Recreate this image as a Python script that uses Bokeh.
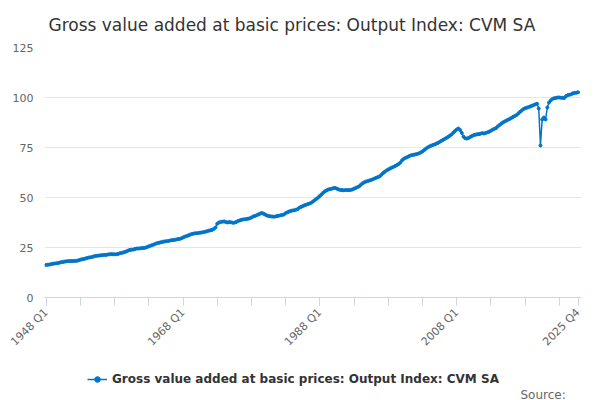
import math
from bokeh.plotting import figure
from bokeh.layouts import column
from bokeh.models import FixedTicker, Legend, LegendItem, Label, ColumnDataSource, Range1d
from bokeh.embed import file_html
from bokeh.resources import INLINE

title_text = "Gross value added at basic prices: Output Index: CVM SA"
series_name = "Gross value added at basic prices: Output Index: CVM SA"
tick_labels = {0: "1948 Q1", 80: "1968 Q1", 160: "1988 Q1", 240: "2008 Q1", 311: "2025 Q4"}

values = [
 16.3,16.4,16.5,16.7, 16.9,17.0,17.1,17.2, 17.5,17.7,17.8,18.0, 18.1,18.2,18.2,18.2,
 18.2,18.3,18.4,18.6, 18.9,19.1,19.3,19.5, 19.8,20.0,20.1,20.3, 20.6,20.8,20.9,21.0,
 21.1,21.2,21.3,21.3, 21.5,21.6,21.7,21.6, 21.6,21.6,21.8,22.1, 22.3,22.5,22.8,23.1,
 23.5,23.8,23.9,24.0, 24.3,24.5,24.5,24.6, 24.7,24.8,24.9,25.2, 25.6,25.9,26.2,26.5,
 26.9,27.2,27.4,27.6, 27.8,28.0,28.1,28.2, 28.4,28.6,28.7,28.8, 29.0,29.2,29.3,29.6,
 30.0,30.4,30.7,31.0, 31.4,31.7,31.9,32.1, 32.1,32.3,32.4,32.5, 32.7,32.9,33.1,33.4,
 33.6,33.8,34.3,35.0, 36.9,37.5,37.8,37.9, 38.0,37.8,37.5,37.7, 37.6,37.4,37.4,37.7,
 38.2,38.5,38.8,39.0, 39.1,39.2,39.4,39.6, 40.0,40.5,40.8,41.1, 41.5,41.9,42.3,41.9,
 41.5,41.0,40.8,40.6, 40.5,40.4,40.5,40.7, 40.9,41.1,41.3,41.5, 42.2,42.6,43.0,43.3,
 43.5,43.6,43.9,44.2, 44.9,45.3,45.7,46.1, 46.4,46.7,47.0,47.4, 48.0,48.7,49.3,50.0,
 50.8,51.6,52.4,53.1, 53.6,54.0,54.2,54.4, 54.7,54.8,54.4,54.0, 53.8,53.7,53.6,53.7,
 53.7,53.7,53.8,54.0, 54.4,54.8,55.2,55.6, 56.4,57.1,57.6,58.0, 58.2,58.5,58.8,59.1,
 59.5,59.9,60.2,60.6, 61.4,62.2,62.9,63.5, 64.0,64.5,64.9,65.3, 65.7,66.2,66.7,67.4,
 68.5,69.3,69.8,70.1, 70.6,71.0,71.2,71.4, 71.6,71.8,72.1,72.5, 73.0,73.7,74.4,75.0,
 75.5,75.9,76.2,76.5, 76.9,77.3,77.8,78.3, 78.8,79.3,79.8,80.3, 80.9,81.5,82.4,83.2,
 84.0,84.5,83.8,82.3, 80.4,79.6,79.5,79.8, 80.3,80.8,81.2,81.4, 81.6,81.7,81.9,82.2,
 82.0,82.3,82.6,82.9, 83.4,83.9,84.3,84.7, 85.5,86.2,86.9,87.5, 88.0,88.4,88.9,89.3,
 89.8,90.3,90.8,91.2, 92.0,92.8,93.5,94.2, 94.6,94.9,95.2,95.5, 95.9,96.2,96.6,96.9,
 94.5,76.0,89.0,90.0, 89.0,95.0,97.5,98.5, 99.3,99.6,99.8,100.0, 100.0,99.9,99.8,99.8,
 100.7,101.2,101.4,101.6, 102.1,102.3,102.4,102.6,
]
x = list(range(len(values)))

p = figure(frame_width=537, frame_height=250, output_backend="svg", toolbar_location=None,
           x_range=(-1, 313), y_range=(0, 125), min_border_left=44, min_border_right=4,
           min_border_top=0, min_border_bottom=0)
p.title.text = title_text
p.title.text_font = "DejaVu Sans"
p.title.text_font_size = "17px"
p.title.text_font_style = "normal"
p.title.text_color = "#333333"
p.title.offset = 4
p.title.standoff = 25
p.outline_line_color = None

src = ColumnDataSource(dict(x=x, y=values))
r = p.line("x", "y", source=src, line_color="#0075c9", line_width=1.5)
c = p.scatter("x", "y", source=src, size=3, fill_color="#0075c9", line_color="#0075c9")

p.yaxis.ticker = FixedTicker(ticks=[0, 25, 50, 75, 100, 125])
p.yaxis.axis_line_color = None
p.yaxis.major_tick_line_color = None
p.yaxis.minor_tick_line_color = None
p.yaxis.major_label_text_color = "#666666"
p.yaxis.major_label_text_font = "DejaVu Sans"
p.yaxis.major_label_text_font_size = "11px"
p.ygrid.grid_line_color = "#e6e6e6"
p.xgrid.grid_line_color = None

p.xaxis.ticker = FixedTicker(ticks=list(tick_labels.keys()), minor_ticks=list(range(0, 312, 20)))
p.xaxis.major_label_overrides = tick_labels
p.xaxis.major_label_orientation = math.pi / 4
p.xaxis.major_label_text_color = "#666666"
p.xaxis.major_label_text_font = "DejaVu Sans"
p.xaxis.major_label_text_font_size = "11px"
p.xaxis.axis_line_color = "#ccd6eb"
p.xaxis.major_tick_line_color = "#ccd6eb"
p.xaxis.minor_tick_line_color = "#ccd6eb"
p.xaxis.major_tick_out = 8
p.xaxis.minor_tick_out = 8
p.xaxis.major_tick_in = 0
p.xaxis.minor_tick_in = 0

# legend strip
q = figure(width=584, height=46, output_backend="svg", toolbar_location=None,
           x_range=Range1d(0, 1), y_range=Range1d(0, 1), min_border=0)
q.axis.visible = False
q.grid.visible = False
q.outline_line_color = None
lr = q.line([5, 6], [5, 6], line_color="#0075c9", line_width=1.5)
lc = q.scatter([5], [5], size=3.5, fill_color="#0075c9", line_color="#0075c9")
legend = Legend(items=[LegendItem(label=series_name, renderers=[lr, lc])],
                orientation="horizontal", location=(43, 16), border_line_color=None,
                background_fill_alpha=0,
                label_text_font="DejaVu Sans", label_text_font_size="12px",
                label_text_font_style="bold", label_text_color="#333333",
                margin=0, padding=2, label_height=14, glyph_height=14, glyph_width=20)
q.add_layout(legend, "center")
q.add_layout(Label(x=476, y=1, x_units="screen", y_units="screen", text="Source:",
                   text_font="DejaVu Sans", text_font_size="12px", text_color="#666666",
                   text_align="left"))

layout = column(p, q, spacing=0)
open("out.html", "w").write(file_html(layout, INLINE))
